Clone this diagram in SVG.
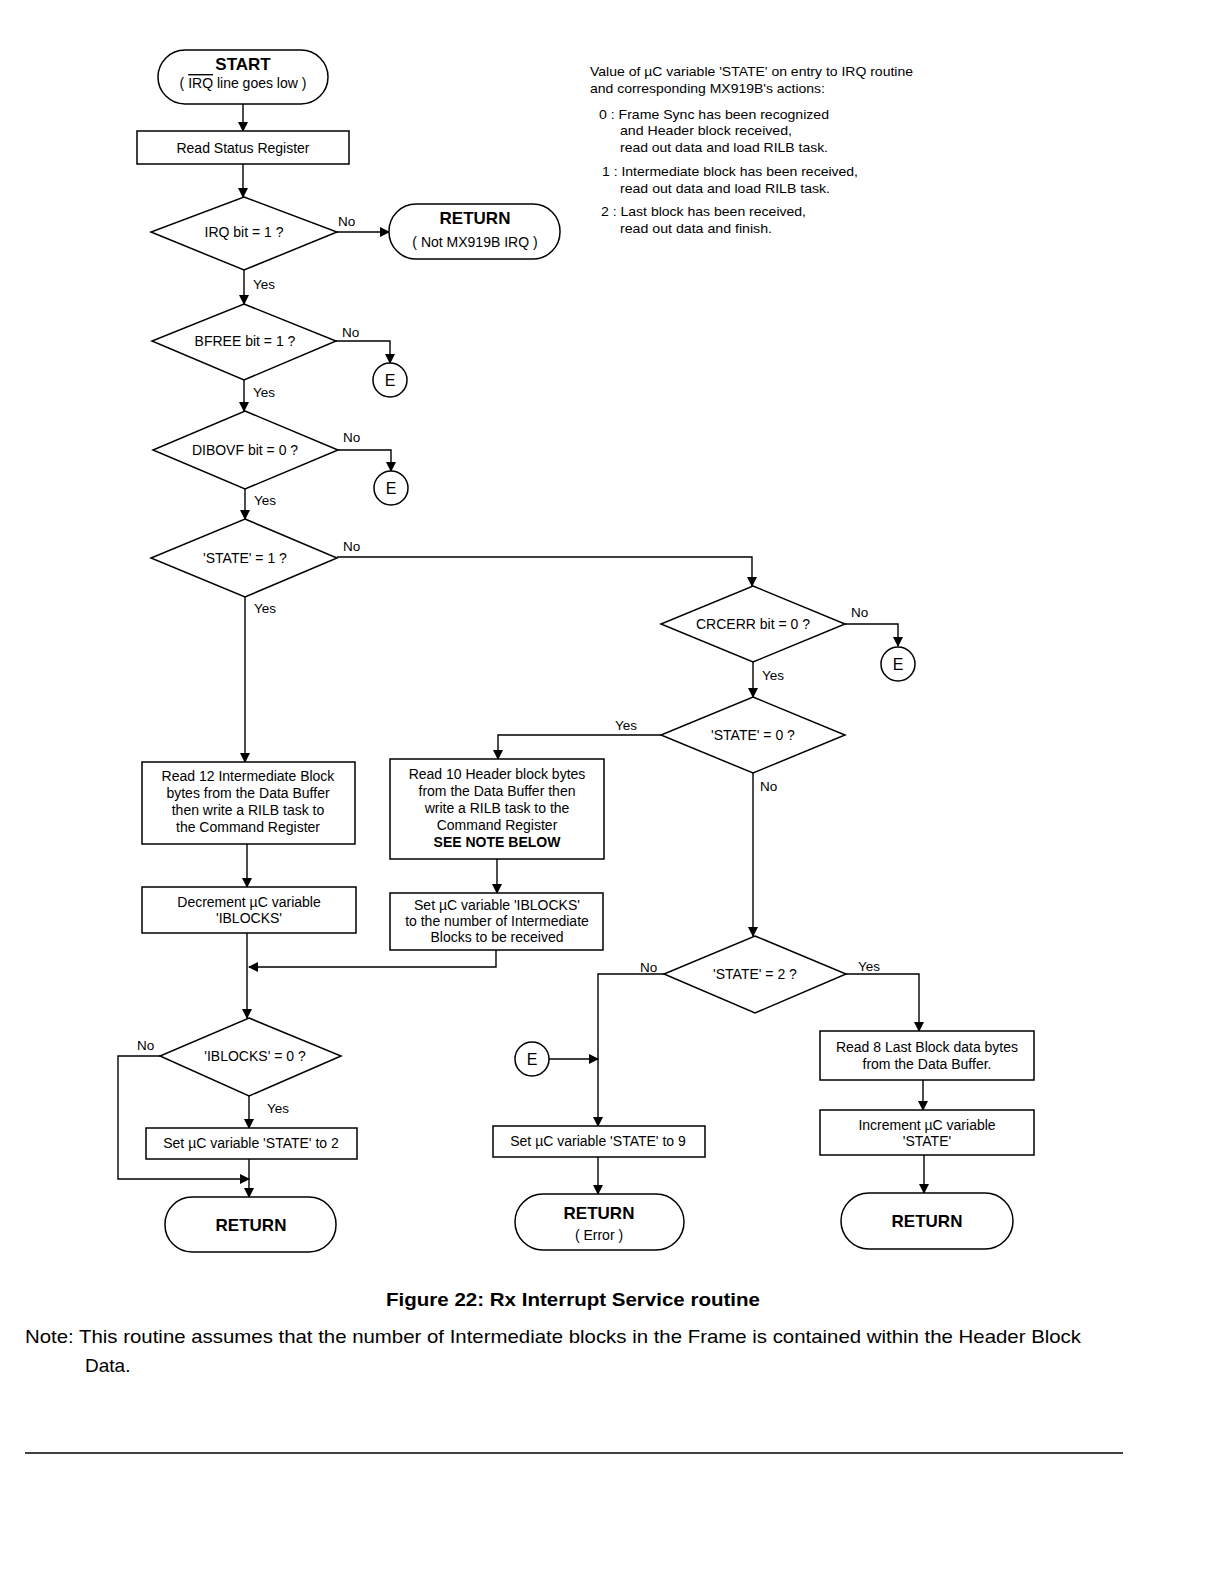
<svg xmlns="http://www.w3.org/2000/svg" width="1224" height="1584" viewBox="0 0 1224 1584">
<defs>
<marker id="ah" markerWidth="10" markerHeight="10" refX="9" refY="5" orient="auto" markerUnits="userSpaceOnUse">
<path d="M0,0 L10,5 L0,10 Z" fill="#000"/>
</marker>
</defs>
<style>
.box{fill:#fff;stroke:#000;stroke-width:1.5}
.term{fill:#fff;stroke:#000;stroke-width:1.5}
.t{font-family:"Liberation Sans",Arial,sans-serif;font-size:14px;fill:#000;text-anchor:middle}
.tb{font-family:"Liberation Sans",Arial,sans-serif;font-size:17px;font-weight:bold;fill:#000;text-anchor:middle}
.lbl{font-family:"Liberation Sans",Arial,sans-serif;font-size:13.5px;fill:#000}
.side{font-family:"Liberation Sans",Arial,sans-serif;font-size:13px;fill:#000}
.c{fill:none;stroke:#000;stroke-width:1.4}
</style>
<rect width="1224" height="1584" fill="#fff"/>

<g id="connectors">
<line class="c" x1="243" y1="104" x2="243" y2="131" marker-end="url(#ah)"/>
<line class="c" x1="243" y1="164" x2="243" y2="197" marker-end="url(#ah)"/>
<line class="c" x1="337" y1="232" x2="389" y2="232" marker-end="url(#ah)"/>
<line class="c" x1="244" y1="270" x2="244" y2="304" marker-end="url(#ah)"/>
<polyline class="c" points="336,341 390,341 390,363" marker-end="url(#ah)"/>
<line class="c" x1="244" y1="380" x2="244" y2="411" marker-end="url(#ah)"/>
<polyline class="c" points="338,450 391,450 391,471" marker-end="url(#ah)"/>
<line class="c" x1="245" y1="489" x2="245" y2="519" marker-end="url(#ah)"/>
<polyline class="c" points="337,557 752,557 752,586" marker-end="url(#ah)"/>
<line class="c" x1="245" y1="597" x2="245" y2="762" marker-end="url(#ah)"/>
<polyline class="c" points="845,624 898,624 898,646" marker-end="url(#ah)"/>
<line class="c" x1="753" y1="662" x2="753" y2="697" marker-end="url(#ah)"/>
<polyline class="c" points="661,735 498,735 498,759" marker-end="url(#ah)"/>
<line class="c" x1="753" y1="773" x2="753" y2="936" marker-end="url(#ah)"/>
<line class="c" x1="247" y1="844" x2="247" y2="887" marker-end="url(#ah)"/>
<line class="c" x1="497" y1="859" x2="497" y2="893" marker-end="url(#ah)"/>
<line class="c" x1="247" y1="933" x2="247" y2="1018" marker-end="url(#ah)"/>
<polyline class="c" points="496,950 496,967 249,967" marker-end="url(#ah)"/>
<polyline class="c" points="664,974 598,974 598,1126" marker-end="url(#ah)"/>
<line class="c" x1="549" y1="1059" x2="598" y2="1059" marker-end="url(#ah)"/>
<polyline class="c" points="846,974 919,974 919,1031" marker-end="url(#ah)"/>
<line class="c" x1="923" y1="1080" x2="923" y2="1110" marker-end="url(#ah)"/>
<line class="c" x1="924" y1="1155" x2="924" y2="1193" marker-end="url(#ah)"/>
<line class="c" x1="249" y1="1096" x2="249" y2="1128" marker-end="url(#ah)"/>
<polyline class="c" points="160,1056 118,1056 118,1179 249,1179" marker-end="url(#ah)"/>
<line class="c" x1="249" y1="1159" x2="249" y2="1197" marker-end="url(#ah)"/>
<line class="c" x1="598" y1="1157" x2="598" y2="1194" marker-end="url(#ah)"/>
<text class="lbl" x="338" y="226">No</text>
<text class="lbl" x="253" y="289">Yes</text>
<text class="lbl" x="342" y="337">No</text>
<text class="lbl" x="253" y="397">Yes</text>
<text class="lbl" x="343" y="442">No</text>
<text class="lbl" x="254" y="505">Yes</text>
<text class="lbl" x="343" y="551">No</text>
<text class="lbl" x="254" y="613">Yes</text>
<text class="lbl" x="851" y="617">No</text>
<text class="lbl" x="762" y="680">Yes</text>
<text class="lbl" x="615" y="730">Yes</text>
<text class="lbl" x="760" y="791">No</text>
<text class="lbl" x="640" y="972">No</text>
<text class="lbl" x="858" y="971">Yes</text>
<text class="lbl" x="137" y="1050">No</text>
<text class="lbl" x="267" y="1113">Yes</text>
</g>

<g id="start">
<rect class="term" x="158" y="50" width="170" height="54" rx="27"/>
<text class="tb" x="243" y="70">START</text>
<text class="t" x="243" y="88">( <tspan text-decoration="overline">IRQ</tspan> line goes  low )</text>
</g>
<g id="read-status">
<rect class="box" x="137" y="131" width="212" height="33"/>
<text class="t" x="243" y="153">Read Status Register</text>
</g>
<g id="irq-bit">
<polygon class="box" points="244,197 337,232 244,270 151,232"/>
<text class="t" x="244" y="237">IRQ bit = 1 ?</text>
</g>
<g id="return-not">
<rect class="term" x="389" y="204" width="171" height="55" rx="27"/>
<text class="tb" x="475" y="224">RETURN</text>
<text class="t" x="475" y="247">( Not MX919B IRQ )</text>
</g>
<g id="bfree">
<polygon class="box" points="244,304 336,341 244,380 152,341"/>
<text class="t" x="245" y="346">BFREE bit = 1 ?</text>
</g>
<g id="e1">
<circle class="box" cx="390" cy="380" r="17"/>
<text class="t" x="390" y="386" style="font-size:16px">E</text>
</g>
<g id="dibovf">
<polygon class="box" points="245,411 338,450 245,489 153,450"/>
<text class="t" x="245" y="455">DIBOVF bit = 0 ?</text>
</g>
<g id="e2">
<circle class="box" cx="391" cy="488" r="17"/>
<text class="t" x="391" y="494" style="font-size:16px">E</text>
</g>
<g id="state1">
<polygon class="box" points="245,519 337,558 245,597 151,558"/>
<text class="t" x="245" y="563">'STATE' = 1 ?</text>
</g>
<g id="crcerr">
<polygon class="box" points="753,586 845,624 753,662 661,624"/>
<text class="t" x="753" y="629">CRCERR bit = 0 ?</text>
</g>
<g id="e3">
<circle class="box" cx="898" cy="664" r="17"/>
<text class="t" x="898" y="670" style="font-size:16px">E</text>
</g>
<g id="state0">
<polygon class="box" points="753,697 845,735 753,773 661,735"/>
<text class="t" x="753" y="740">'STATE' = 0 ?</text>
</g>
<g id="read12">
<rect class="box" x="142" y="762" width="213" height="82"/>
<text class="t" x="248" y="781">Read 12 Intermediate Block</text>
<text class="t" x="248" y="798">bytes from the Data Buffer</text>
<text class="t" x="248" y="815">then write a RILB task to</text>
<text class="t" x="248" y="832">the Command Register</text>
</g>
<g id="decrement">
<rect class="box" x="142" y="887" width="214" height="46"/>
<text class="t" x="249" y="907">Decrement µC variable</text>
<text class="t" x="249" y="923">'IBLOCKS'</text>
</g>
<g id="read10">
<rect class="box" x="390" y="759" width="214" height="100"/>
<text class="t" x="497" y="779">Read 10 Header block bytes</text>
<text class="t" x="497" y="796">from the Data Buffer then</text>
<text class="t" x="497" y="813">write a RILB task to the</text>
<text class="t" x="497" y="830">Command Register</text>
<text class="t" x="497" y="847" font-weight="bold">SEE NOTE BELOW</text>
</g>
<g id="set-iblocks">
<rect class="box" x="390" y="893" width="213" height="57"/>
<text class="t" x="497" y="910">Set µC variable 'IBLOCKS'</text>
<text class="t" x="497" y="926">to the number of Intermediate</text>
<text class="t" x="497" y="942">Blocks to be received</text>
</g>
<g id="state2">
<polygon class="box" points="755,936 846,974 755,1013 664,974"/>
<text class="t" x="755" y="979">'STATE' = 2 ?</text>
</g>
<g id="e4">
<circle class="box" cx="532" cy="1059" r="17"/>
<text class="t" x="532" y="1065" style="font-size:16px">E</text>
</g>
<g id="read8">
<rect class="box" x="820" y="1031" width="214" height="49"/>
<text class="t" x="927" y="1052">Read 8 Last Block data bytes</text>
<text class="t" x="927" y="1069">from the Data Buffer.</text>
</g>
<g id="increment">
<rect class="box" x="820" y="1110" width="214" height="45"/>
<text class="t" x="927" y="1130">Increment µC variable</text>
<text class="t" x="927" y="1146">'STATE'</text>
</g>
<g id="return-right">
<rect class="term" x="841" y="1193" width="172" height="56" rx="28"/>
<text class="tb" x="927" y="1227">RETURN</text>
</g>
<g id="iblocks0">
<polygon class="box" points="249,1018 341,1056 249,1096 160,1056"/>
<text class="t" x="255" y="1061">'IBLOCKS' = 0 ?</text>
</g>
<g id="set-state2">
<rect class="box" x="146" y="1128" width="211" height="31"/>
<text class="t" x="251" y="1148">Set µC variable 'STATE' to 2</text>
</g>
<g id="return-left">
<rect class="term" x="165" y="1197" width="171" height="55" rx="27"/>
<text class="tb" x="251" y="1231">RETURN</text>
</g>
<g id="set-state9">
<rect class="box" x="493" y="1126" width="212" height="31"/>
<text class="t" x="598" y="1146">Set µC variable 'STATE' to 9</text>
</g>
<g id="return-error">
<rect class="term" x="515" y="1194" width="169" height="56" rx="28"/>
<text class="tb" x="599" y="1219">RETURN</text>
<text class="t" x="599" y="1240">( Error )</text>
</g>

<g id="legend">
<text class="side" x="590" y="76" textLength="323" lengthAdjust="spacingAndGlyphs">Value of µC variable 'STATE' on entry to IRQ routine</text>
<text class="side" x="590" y="93" textLength="235" lengthAdjust="spacingAndGlyphs">and corresponding MX919B's actions:</text>
<text class="side" x="599" y="119" textLength="230" lengthAdjust="spacingAndGlyphs">0 : Frame Sync has been recognized</text>
<text class="side" x="620" y="135" textLength="172" lengthAdjust="spacingAndGlyphs">and Header block received,</text>
<text class="side" x="620" y="152" textLength="208" lengthAdjust="spacingAndGlyphs">read out data and load RILB task.</text>
<text class="side" x="602" y="176" textLength="256" lengthAdjust="spacingAndGlyphs">1 : Intermediate block has been received,</text>
<text class="side" x="620" y="193" textLength="210" lengthAdjust="spacingAndGlyphs">read out data and load RILB task.</text>
<text class="side" x="601" y="216" textLength="205" lengthAdjust="spacingAndGlyphs">2 : Last block has been received,</text>
<text class="side" x="620" y="233" textLength="152" lengthAdjust="spacingAndGlyphs">read out data and finish.</text>
</g>

<text x="386" y="1306" textLength="374" lengthAdjust="spacingAndGlyphs" style="font-family:'Liberation Sans',Arial,sans-serif;font-size:18px;font-weight:bold">Figure 22:  Rx Interrupt Service routine</text>
<text x="25" y="1343" textLength="1056" lengthAdjust="spacingAndGlyphs" style="font-family:'Liberation Sans',Arial,sans-serif;font-size:19px">Note:  This routine assumes that the number of Intermediate blocks in the Frame is contained within the Header Block</text>
<text x="85" y="1372" style="font-family:'Liberation Sans',Arial,sans-serif;font-size:19px">Data.</text>
<line x1="25" y1="1453" x2="1123" y2="1453" stroke="#000" stroke-width="1.5"/>
</svg>
